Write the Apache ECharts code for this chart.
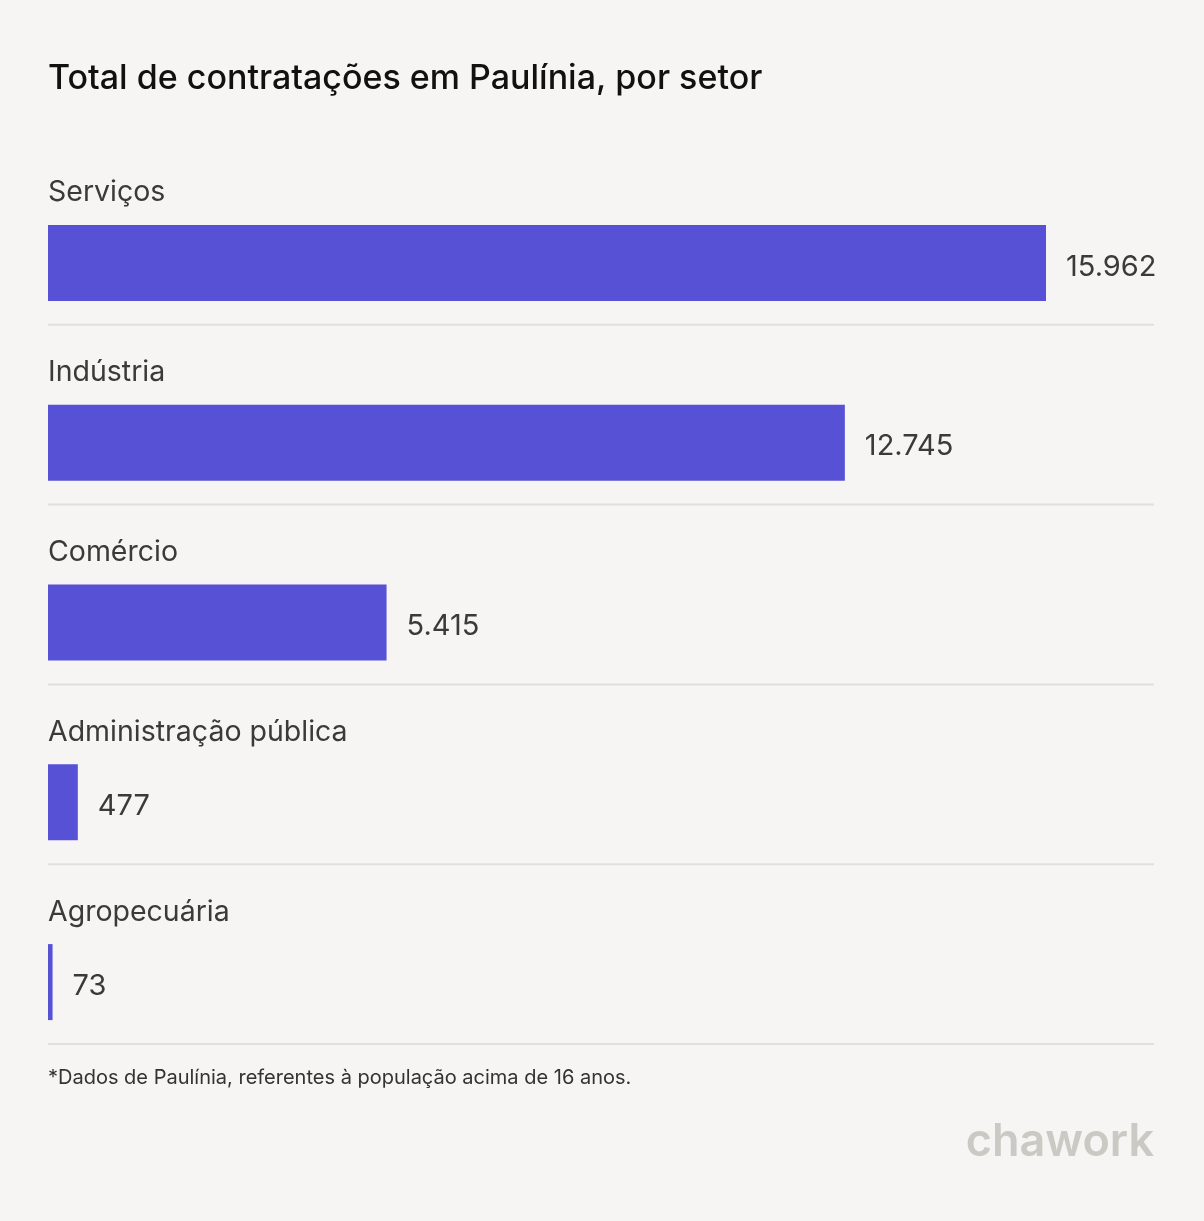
<!DOCTYPE html>
<html>
<head>
<meta charset="utf-8">
<script src="https://cdn.jsdelivr.net/npm/echarts@6/dist/echarts.min.js"></script>
<style>
html,body{margin:0;padding:0;background:#f6f5f3;}
#chart{width:1204px;height:1221px;}
</style>
</head>
<body>
<div id="chart"></div>
<script>
const categories = ['Serviços', 'Indústria', 'Comércio', 'Administração pública', 'Agropecuária'];
const values = [15962, 12745, 5415, 477, 73];
const valueLabels = ['15.962', '12.745', '5.415', '477', '73'];

const chart = echarts.init(document.getElementById('chart'));
const FONT = 'Inter, "Noto Sans", sans-serif';

function renderItem(params, api) {
  const idx = api.value(0);
  const val = api.value(1);
  const start = api.coord([0, idx]);
  const end = api.coord([val, idx]);
  const band = api.size([0, 1])[1];
  const cy = start[1];
  const barH = 76;
  const barTop = cy + 28 - barH / 2;
  const right = params.coordSys.x + params.coordSys.width;
  return {
    type: 'group',
    children: [
      {
        type: 'rect',
        shape: { x: start[0], y: barTop, width: end[0] - start[0], height: barH },
        style: { fill: '#5752d5' }
      },
      {
        type: 'text',
        style: {
          x: start[0], y: cy - 42, text: categories[idx],
          font: '400 28.5px ' + FONT, fill: '#3a3a3a',
          textAlign: 'left', textVerticalAlign: 'middle'
        }
      },
      {
        type: 'text',
        style: {
          x: end[0] + 20, y: cy + 32, text: valueLabels[idx],
          font: '400 29px ' + FONT, fill: '#3a3a3a',
          textAlign: 'left', textVerticalAlign: 'middle'
        }
      },
      {
        type: 'line',
        shape: { x1: start[0], y1: cy + band / 2, x2: right, y2: cy + band / 2 },
        style: { stroke: '#e2e0dd', lineWidth: 2 }
      }
    ]
  };
}

chart.setOption({
  backgroundColor: '#f6f5f3',
  animation: false,
  title: {
    text: 'Total de contratações em Paulínia, por setor',
    left: 48, top: 62, padding: 0,
    textStyle: { fontFamily: FONT, fontSize: 34, fontWeight: 500, color: '#111111' }
  },
  grid: { left: 48, right: 50, top: 145, height: 899 },
  xAxis: {
    type: 'value', min: 0, max: values[0] * 1106 / 998,
    show: false
  },
  yAxis: {
    type: 'category', data: categories, inverse: true, show: false
  },
  series: [{
    type: 'custom',
    renderItem: renderItem,
    data: values.map((v, i) => [i, v]),
    encode: { x: 1, y: 0 }
  }],
  graphic: [
    {
      type: 'text', left: 48, top: 1068,
      style: {
        text: '*Dados de Paulínia, referentes à população acima de 16 anos.',
        font: '400 20px ' + FONT, fill: '#333333'
      }
    },
    {
      type: 'text', right: 50, top: 1120,
      style: {
        text: 'chawork',
        font: '600 45px ' + FONT, fill: '#cbc9c4'
      }
    }
  ]
});
</script>
</body>
</html>
